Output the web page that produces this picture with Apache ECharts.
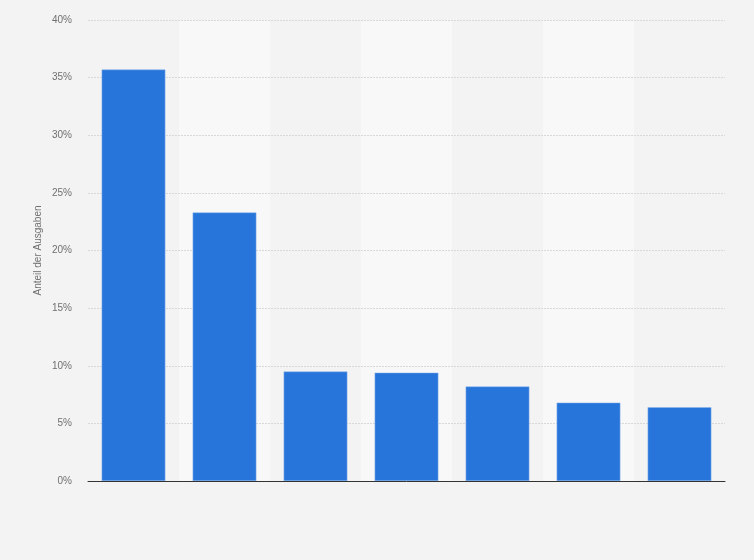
<!DOCTYPE html>
<html><head><meta charset="utf-8">
<script src="https://cdn.jsdelivr.net/npm/echarts@6/dist/echarts.min.js"></script>
<style>html,body{margin:0;padding:0;background:#f3f3f3}#c{width:754px;height:560px}</style>
</head><body><div id="c"></div>
<script>
const categories = ['A','B','C','D','E','F','G'];
const values = [35.7, 23.3, 9.5, 9.4, 8.2, 6.8, 6.4];
const yTicks = [0, 5, 10, 15, 20, 25, 30, 35, 40];

const chart = echarts.init(document.getElementById('c'));
chart.setOption({
  backgroundColor: '#f3f3f3',
  animation: false,
  grid: { left: 88, right: 29, top: 20, bottom: 79 },
  xAxis: [{
    type: 'category',
    data: categories,
    z: 0,
    axisLine: { show: false },
    axisTick: { show: false },
    axisLabel: { show: false },
    splitArea: { show: true, areaStyle: { color: ['rgba(0,0,0,0)', '#f8f8f8'] } }
  }, {
    type: 'category',
    data: categories,
    position: 'bottom',
    z: 5,
    axisLine: { show: true, lineStyle: { color: '#333', width: 1 } },
    axisTick: { show: false },
    axisLabel: { show: false },
    splitLine: { show: false },
    splitArea: { show: false }
  }],
  yAxis: {
    type: 'value',
    z: 1,
    min: yTicks[0], max: yTicks[yTicks.length - 1], interval: 5,
    name: 'Anteil der Ausgaben',
    nameLocation: 'middle',
    nameGap: 45,
    nameMoveOverlap: false,
    nameTextStyle: { color: '#707070', fontSize: 10, fontFamily: 'Arial, Liberation Sans' },
    axisLine: { show: false },
    axisTick: { show: false },
    axisLabel: { color: '#707070', fontSize: 10, fontFamily: 'Arial, Liberation Sans', formatter: '{value}%', margin: 16 },
    splitLine: { lineStyle: { color: '#d8d8d8', type: [2, 1] } }
  },
  series: [{
    type: 'bar',
    z: 2,
    xAxisIndex: 0,
    data: values,
    barCategoryGap: '30%',
    itemStyle: { color: '#2775da', borderColor: '#8fb6ea', borderWidth: 0.5 }
  }]
});
</script></body></html>
